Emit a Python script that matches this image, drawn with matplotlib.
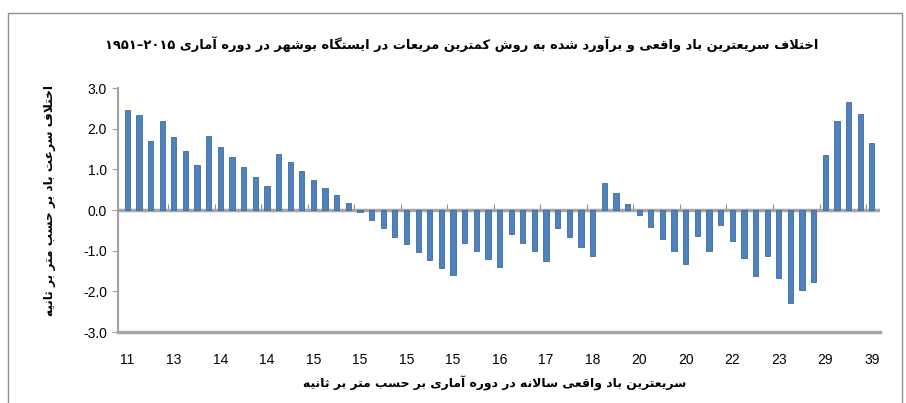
import numpy as np
import matplotlib
matplotlib.use("Agg")
import matplotlib.pyplot as plt
from matplotlib.patches import Rectangle

# difference between actual and least-squares estimated fastest wind, Bushehr 1951-2015
diffs = [2.45, 2.34, 1.69, 2.20, 1.79, 1.44, 1.11, 1.83, 1.55, 1.30, 1.05, 0.82, 0.59,
         1.38, 1.18, 0.96, 0.75, 0.55, 0.36, 0.16, -0.05,
         -0.25, -0.45, -0.66, -0.84, -1.04, -1.23, -1.42, -1.61, -0.80, -1.00, -1.20,
         -1.40, -0.60, -0.81, -1.02, -1.25, -0.45, -0.67, -0.90, -1.14, 0.66, 0.42,
         0.15, -0.12, -0.43, -0.71, -1.00, -1.32, -0.65, -1.00, -0.37, -0.75, -1.17,
         -1.63, -1.12, -1.67, -2.28, -1.97, -1.76, 1.35, 2.19, 2.65, 2.36, 1.65]
tick_labels = ['11', '13', '14', '14', '15', '15', '15', '15', '16', '17', '18',
               '20', '20', '22', '23', '29', '39']

title_txt = "اختلاف سریعترین باد واقعی و برآورد شده به روش کمترین مربعات در ایستگاه بوشهر در دوره آماری ۱۹۵۱–۲۰۱۵"
xlabel_txt = "سریعترین باد واقعی سالانه در دوره آماری بر حسب متر بر ثانیه"
ylabel_txt = "اختلاف سرعت باد بر حسب متر بر ثانیه"

# matplotlib has no arabic shaping, so pick presentation forms by hand
# (isolated, final, initial, medial)
FORMS = {
    'ا': ('\uFE8D', '\uFE8E'), 'آ': ('\uFE81', '\uFE82'),
    'د': ('\uFEA9', '\uFEAA'), 'ر': ('\uFEAD', '\uFEAE'),
    'و': ('\uFEED', '\uFEEE'),
    'ب': ('\uFE8F', '\uFE90', '\uFE91', '\uFE92'),
    'ت': ('\uFE95', '\uFE96', '\uFE97', '\uFE98'),
    'ث': ('\uFE99', '\uFE9A', '\uFE9B', '\uFE9C'),
    'ح': ('\uFEA1', '\uFEA2', '\uFEA3', '\uFEA4'),
    'خ': ('\uFEA5', '\uFEA6', '\uFEA7', '\uFEA8'),
    'س': ('\uFEB1', '\uFEB2', '\uFEB3', '\uFEB4'),
    'ش': ('\uFEB5', '\uFEB6', '\uFEB7', '\uFEB8'),
    'ع': ('\uFEC9', '\uFECA', '\uFECB', '\uFECC'),
    'ف': ('\uFED1', '\uFED2', '\uFED3', '\uFED4'),
    'ق': ('\uFED5', '\uFED6', '\uFED7', '\uFED8'),
    'ل': ('\uFEDD', '\uFEDE', '\uFEDF', '\uFEE0'),
    'م': ('\uFEE1', '\uFEE2', '\uFEE3', '\uFEE4'),
    'ن': ('\uFEE5', '\uFEE6', '\uFEE7', '\uFEE8'),
    'ه': ('\uFEE9', '\uFEEA', '\uFEEB', '\uFEEC'),
    'ک': ('\uFB8E', '\uFB8F', '\uFB90', '\uFB91'),
    'گ': ('\uFB92', '\uFB93', '\uFB94', '\uFB95'),
    'ی': ('\uFBFC', '\uFBFD', '\uFBFE', '\uFBFF'),
    'LA': ('\uFEFB', '\uFEFC'),
}


def shape_word(word):
    chars = []
    i = 0
    while i < len(word):
        if word[i] == 'ل' and i + 1 < len(word) and word[i + 1] == 'ا':
            chars.append('LA')
            i += 2
        else:
            chars.append(word[i])
            i += 1
    out = []
    for k, c in enumerate(chars):
        if c not in FORMS:
            out.append(c)
            continue
        prev_joins = k > 0 and chars[k - 1] in FORMS and len(FORMS[chars[k - 1]]) == 4
        next_joins = (len(FORMS[c]) == 4 and k + 1 < len(chars) and chars[k + 1] in FORMS)
        f = FORMS[c]
        if prev_joins and next_joins:
            out.append(f[3])
        elif prev_joins:
            out.append(f[1])
        elif next_joins:
            out.append(f[2])
        else:
            out.append(f[0])
    return ''.join(out)


def rtl(text):
    words = []
    for w in text.split(' '):
        if any(c in FORMS for c in w):
            words.append(shape_word(w)[::-1])
        else:
            words.append(w)
    return ' '.join(words[::-1])


plt.rcParams['font.family'] = ['DejaVu Sans']

fig = plt.figure(figsize=(9.06, 4.03), dpi=100)
ax = fig.add_axes([118 / 906, 1 - 332 / 403, (880 - 118) / 906, (332 - 88) / 403])

x = np.arange(len(diffs))
ax.bar(x, diffs, width=0.45, color='#4F81BD', edgecolor='#3B6BA3', linewidth=0.6, zorder=3)
ax.axhline(0, color='#a6a6a6', linewidth=2.5, zorder=2)

ax.set_xlim(-0.8, 64.7)
ax.set_ylim(-3, 3)
ax.set_yticks(np.arange(-3, 3.1, 1))
ax.set_yticklabels(['%.1f' % v for v in np.arange(-3, 3.1, 1)])
ax.set_xticks(x[::4])
ax.set_xticklabels(tick_labels)
ax.tick_params(axis='x', length=0, pad=15, labelsize=10)
ax.tick_params(axis='y', length=4, color='#a0a0a0', pad=4, labelsize=10)
for lab in ax.get_xticklabels() + ax.get_yticklabels():
    lab.set_fontfamily('Liberation Sans')

for s in ['top', 'right']:
    ax.spines[s].set_visible(False)
ax.spines['left'].set_color('#a0a0a0')
ax.spines['left'].set_linewidth(1.5)
ax.spines['bottom'].set_color('#a6a6a6')
ax.spines['bottom'].set_linewidth(2.5)

# category tick marks sit on the zero line
sec = ax.secondary_xaxis(0.5)
sec.set_xticks(np.arange(3.5, 64, 4))
sec.tick_params(axis='x', direction='out', length=4, color='#909090', labelbottom=False, labeltop=False)
sec.spines['bottom'].set_visible(False)
sec.spines['top'].set_visible(False)

fig.text(462 / 906, 1 - 44 / 403, rtl(title_txt), ha='center', va='center', fontsize=9.4, fontweight='bold')
fig.text(495 / 906, 1 - 383 / 403, rtl(xlabel_txt), ha='center', va='center', fontsize=8.9, fontweight='bold')
fig.text(50 / 906, 1 - 200 / 403, rtl(ylabel_txt), ha='center', va='center', rotation=90,
         fontsize=8.7, fontweight='bold')

fig.add_artist(Rectangle((8 / 906, -0.05), (902 - 8) / 906, 1.05 - 13 / 403, transform=fig.transFigure,
                         fill=False, edgecolor='#909090', linewidth=1))

fig.savefig('out.png', dpi=100)
